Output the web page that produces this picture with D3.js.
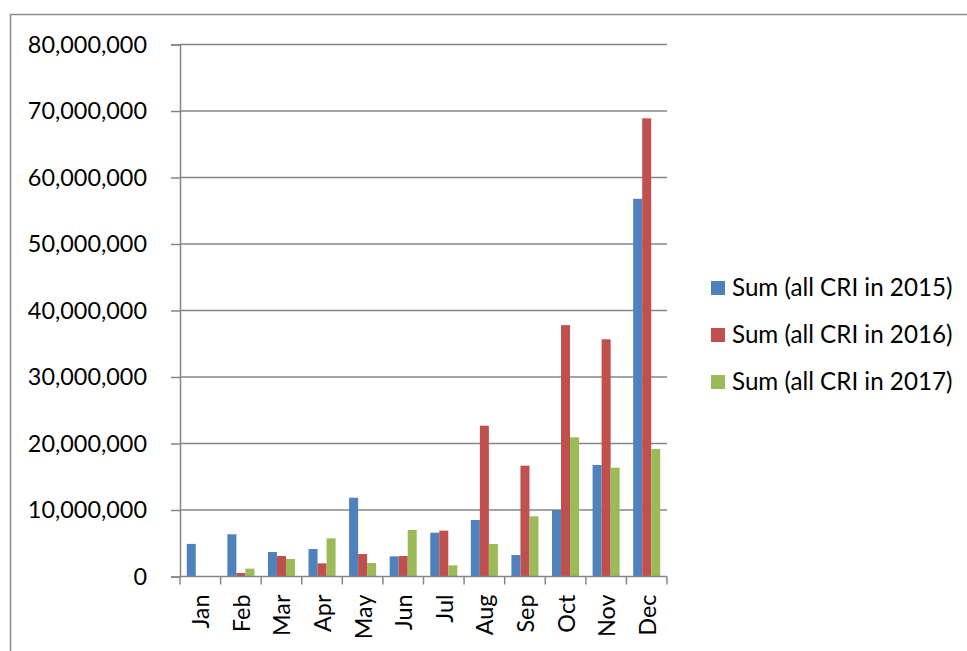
<!DOCTYPE html>
<html>
<head>
<meta charset="utf-8">
<script src="https://cdn.jsdelivr.net/npm/d3@7"></script>
<style>
  html, body { margin: 0; padding: 0; background: #fff; }
  svg { display: block; }
  text { font-family: Lato, "Noto Sans", sans-serif; fill: #000; }
</style>
</head>
<body>
<svg id="chart" width="967" height="651"></svg>
<script>
// Monthly totals per year
const months = ["Jan", "Feb", "Mar", "Apr", "May", "Jun", "Jul", "Aug", "Sep", "Oct", "Nov", "Dec"];
const sum2015 = [4900000, 6350000, 3680000, 4130000, 11850000, 3030000, 6590000, 8500000, 3230000, 10000000, 16770000, 56800000];
const sum2016 = [0, 530000, 3080000, 1980000, 3380000, 3080000, 6890000, 22680000, 16670000, 37800000, 35670000, 68900000];
const sum2017 = [0, 1180000, 2630000, 5740000, 2030000, 7000000, 1680000, 4890000, 9050000, 20930000, 16370000, 19170000];
const seriesNames = ["Sum (all CRI in 2015)", "Sum (all CRI in 2016)", "Sum (all CRI in 2017)"];
const seriesColors = ["#4F81BD", "#C0504D", "#9BBB59"];
const yTicks = [0, 10000000, 20000000, 30000000, 40000000, 50000000, 60000000, 70000000, 80000000];

const seriesValues = [sum2015, sum2016, sum2017];
const svg = d3.select("#chart");

// Chart frame
svg.append("rect")
  .attr("x", 10.5).attr("y", 14.5)
  .attr("width", 1000).attr("height", 1000)
  .attr("fill", "none").attr("stroke", "#8c8c8c").attr("stroke-width", 1.5);

const plot = { left: 180, right: 667, top: 44.5, bottom: 576.5 };

const x = d3.scaleBand().domain(months).range([plot.left, plot.right]);
const barW = x.bandwidth() / 4.5;
const xs = d3.scaleBand().domain(d3.range(3))
  .range([0, barW * 3]);
const groupOffset = (x.bandwidth() - barW * 3) / 2;

const y = d3.scaleLinear().domain([0, 80000000]).range([plot.bottom, plot.top]);

const gridColor = "#868686";

// Horizontal gridlines
svg.append("g")
  .selectAll("line")
  .data(yTicks.filter(d => d > 0))
  .join("line")
  .attr("x1", plot.left).attr("x2", plot.right)
  .attr("y1", d => y(d)).attr("y2", d => y(d))
  .attr("stroke", gridColor).attr("stroke-width", 1.5);

// Bars
const groups = svg.append("g")
  .selectAll("g")
  .data(months)
  .join("g")
  .attr("transform", m => `translate(${x(m) + groupOffset},0)`);

groups.selectAll("rect")
  .data((m, i) => seriesValues.map((vals, s) => ({ s, v: vals[i] })))
  .join("rect")
  .attr("x", d => xs(d.s))
  .attr("width", barW)
  .attr("y", d => y(d.v))
  .attr("height", d => y(0) - y(d.v))
  .attr("fill", d => seriesColors[d.s]);

// Y axis
const yAxis = svg.append("g")
  .attr("transform", `translate(${plot.left},0)`)
  .call(d3.axisLeft(y).tickValues(yTicks).tickFormat(d3.format(",")).tickSize(9).tickPadding(24));
yAxis.select(".domain").attr("stroke", gridColor).attr("stroke-width", 1.5);
yAxis.selectAll(".tick line").attr("stroke", gridColor).attr("stroke-width", 1.5);
yAxis.selectAll(".tick text").attr("font-size", 23.4).attr("font-family", "Lato, 'Noto Sans', sans-serif").attr("fill", "#000");

// X axis with category boundary ticks and rotated labels
const xAxisG = svg.append("g").attr("transform", `translate(0,${plot.bottom})`);
xAxisG.append("line")
  .attr("x1", plot.left).attr("x2", plot.right)
  .attr("stroke", gridColor).attr("stroke-width", 1.5);
const bounds = months.map(m => x(m)).concat([plot.right]);
xAxisG.selectAll("line.tick")
  .data(bounds)
  .join("line")
  .attr("class", "tick")
  .attr("x1", d => d).attr("x2", d => d)
  .attr("y1", 0).attr("y2", 8)
  .attr("stroke", gridColor).attr("stroke-width", 1.5);
xAxisG.selectAll("text")
  .data(months)
  .join("text")
  .attr("transform", m => `translate(${x(m) + x.bandwidth() / 2 + 9},18) rotate(-90)`)
  .attr("text-anchor", "end")
  .attr("font-size", 23.4)
  .text(m => m);

// Legend
const legend = svg.append("g").attr("transform", "translate(711,0)");
const legendRows = legend.selectAll("g")
  .data(seriesNames)
  .join("g")
  .attr("transform", (d, i) => `translate(0,${288 + i * 47})`);
legendRows.append("rect")
  .attr("x", 0).attr("y", -7).attr("width", 14).attr("height", 14)
  .attr("fill", (d, i) => seriesColors[i]);
legendRows.append("text")
  .attr("x", 21).attr("y", 0).attr("dy", "0.35em")
  .attr("font-size", 24.2)
  .text(d => d);
</script>
</body>
</html>
